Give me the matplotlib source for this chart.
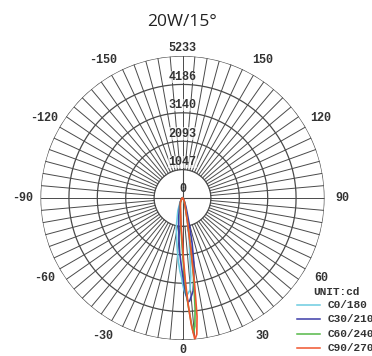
import numpy as np
import matplotlib
matplotlib.use('Agg')
import matplotlib.pyplot as plt
from matplotlib.lines import Line2D

# Photometric data (candela)
title = '20W/15°'
ring_values = [1047, 2093, 3140, 4186, 5233]
angle_labels = [0, 30, 60, 90, 120, 150, -150, -120, -90, -60, -30]
series_names = ['C0/180', 'C30/210', 'C60/240', 'C90/270']
series_colors = ['#6ccbe0', '#3c3ca8', '#55b848', '#f0552e']

c0_angles = [-90, -45, -30, -20, -12, -7, -4, -2, -0.6, 0, 1, 2, 3, 4.7, 6, 7, 9, 12, 15, 20, 30, 45, 90]
c0_values = [0, 40, 180, 500, 1100, 1700, 2300, 2700, 2950, 3150, 3400, 3580, 3550, 3400, 2900, 2300, 1600, 900, 550, 300, 120, 30, 0]

c30_angles = [-90, -45, -30, -20, -12, -8, -5, -3, -1, 0, 1, 2, 3, 4, 5, 6.5, 8, 10, 12, 14, 17, 20, 25, 35, 45, 90]
c30_values = [0, 40, 150, 300, 650, 1000, 1500, 2000, 2500, 2800, 3150, 3550, 3840, 3800, 3650, 3450, 3000, 2400, 1700, 1100, 600, 400, 220, 90, 30, 0]

c60_angles = [-90, -45, -35, -25, -15, -8, -5, -3, -1, 0, 1, 2, 3, 4, 4.6, 5.5, 6.5, 8, 9, 10, 12, 15, 20, 25, 35, 45, 90]
c60_values = [0, 30, 80, 170, 300, 550, 800, 1100, 1600, 2000, 2600, 3300, 3950, 4600, 4990, 4750, 4100, 2900, 2100, 1500, 850, 450, 250, 160, 80, 30, 0]

c90_angles = [-90, -45, -35, -25, -15, -8, -5, -3, -1, 0, 1, 2, 3, 4, 5, 6, 7, 8, 9, 10, 12, 15, 20, 25, 35, 45, 90]
c90_values = [0, 30, 80, 180, 300, 500, 700, 1000, 1400, 1700, 2300, 3100, 3900, 4700, 5230, 5050, 4400, 3200, 2100, 1400, 850, 450, 250, 170, 80, 30, 0]

series = [(c0_angles, c0_values), (c30_angles, c30_values),
          (c60_angles, c60_values), (c90_angles, c90_values)]

mono = 'Liberation Mono'
grid_color = '#4a4a4a'

fig = plt.figure(figsize=(3.72, 3.56), dpi=100)
ax = fig.add_axes([0.1089, 0.0449, 0.7634, 0.7978], projection='polar')
ax.set_theta_zero_location('S')
ax.set_theta_direction(1)
rmax = ring_values[-1]
ax.set_ylim(0, rmax)
ax.grid(False)
ax.set_xticks([])
ax.set_yticks([])
ax.spines['polar'].set_visible(False)

# rings
full = np.linspace(0, 2 * np.pi, 361)
for r in ring_values:
    ax.plot(full, np.full_like(full, r), color=grid_color, lw=0.9, zorder=1)

# spokes every 5 degrees, starting at the inner ring
for a in range(0, 360, 5):
    t = np.deg2rad(a)
    ax.plot([t, t], [ring_values[0], rmax], color=grid_color, lw=0.7, zorder=1)
# cross through the centre
for a in [0, 90, 180, 270]:
    t = np.deg2rad(a)
    ax.plot([t, t], [0, ring_values[0]], color=grid_color, lw=0.8, zorder=1)

# ring value labels on the top axis
for r in ring_values:
    ax.text(np.pi, r + 60, str(r), ha='center', va='bottom', fontsize=8.5,
            family=mono, weight='bold', color='#333333', zorder=3,
            bbox=dict(facecolor='white', edgecolor='none', pad=0.2, alpha=0.6))
ax.text(np.pi, 120, '0', ha='center', va='bottom', fontsize=8.5,
        family=mono, weight='bold', color='#333333', zorder=3)

# angle labels around the outside
for a in angle_labels:
    r = rmax * 1.125 if a != 0 else rmax * 1.07
    ax.text(np.deg2rad(a), r, str(a), ha='center', va='center', fontsize=8.5,
            family=mono, weight='bold', color='#333333', clip_on=False)

# curves
for (angs, vals), col in zip(series, series_colors):
    ax.plot(np.deg2rad(angs), vals, color=col, lw=1.2, zorder=2)

fig.text(0.49, 1 - 22 / 356, title, ha='center', va='center', fontsize=12.5,
         family='Open Sans', color='#222222')

# legend block
fig.text(313 / 372, 1 - 292 / 356, 'UNIT:cd', ha='left', va='center', fontsize=8,
         family=mono, weight='bold', color='#333333')
for i, (name, col) in enumerate(zip(series_names, series_colors)):
    y = 1 - (305 + i * 14.3) / 356
    fig.add_artist(Line2D([297 / 372, 320 / 372], [y, y], color=col, lw=1.1,
                          transform=fig.transFigure))
    fig.text(328 / 372, y, name, ha='left', va='center', fontsize=8,
             family=mono, weight='bold', color='#333333')

fig.savefig('out.png', dpi=100, facecolor='white')
